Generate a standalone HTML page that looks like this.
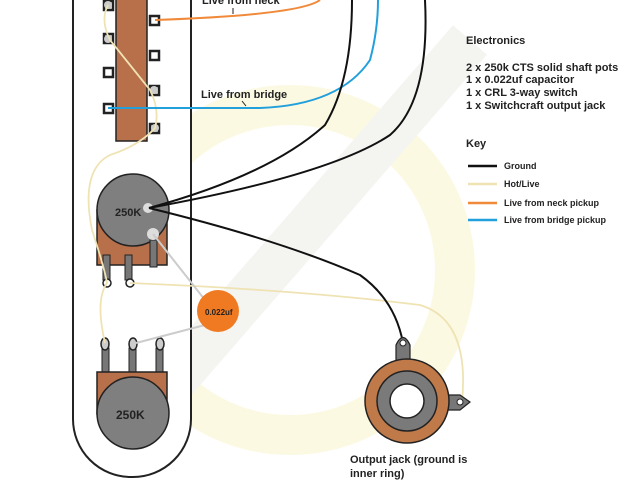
<!DOCTYPE html>
<html><head><style>body{margin:0;background:#fff}svg{display:block}text{font-family:"Liberation Sans",sans-serif;font-weight:bold;fill:#222}</style></head><body>
<svg width="640" height="480" viewBox="0 0 640 480">
<!-- watermark -->
<circle cx="290" cy="270" r="165" fill="none" stroke="#fcf9e2" stroke-width="40"/>
<path d="M140 420 L470 40" stroke="#f4f4f1" stroke-width="45"/>
<!-- plate -->
<rect x="73" y="-60" width="118" height="537" rx="58" fill="#fff" stroke="#222" stroke-width="2"/>
<!-- switch -->
<rect x="116" y="-2" width="31" height="143" fill="#b8704a" stroke="#222" stroke-width="1.5"/>
<g fill="#fff" stroke="#222" stroke-width="2.5">
<rect x="104" y="1" width="9" height="9"/><rect x="104" y="34" width="9" height="9"/><rect x="104" y="68" width="9" height="9"/><rect x="104" y="104" width="9" height="9"/>
<rect x="150" y="16" width="9" height="9"/><rect x="150" y="51" width="9" height="9"/><rect x="150" y="86" width="9" height="9"/><rect x="150" y="124" width="9" height="9"/>
</g>
<g fill="#ccc"><circle cx="108" cy="5" r="4"/><circle cx="108" cy="39" r="4"/><circle cx="154" cy="90" r="4"/><circle cx="155" cy="128" r="4"/></g>
<!-- pot1 -->
<rect x="97" y="210" width="70" height="55" fill="#b8704a" stroke="#222" stroke-width="1.5"/>
<circle cx="133" cy="210" r="36" fill="#7f7f7f" stroke="#222" stroke-width="1.5"/>
<text x="115" y="216" font-size="11">250K</text>
<g fill="#777" stroke="#222" stroke-width="1"><rect x="103" y="255" width="7" height="25"/><rect x="125" y="255" width="7" height="25"/><rect x="150" y="240" width="7" height="27"/></g>
<g fill="#fff" stroke="#222" stroke-width="1.5"><circle cx="107" cy="283" r="4"/><circle cx="130" cy="283" r="4"/></g>
<circle cx="148" cy="208" r="5" fill="#ddd"/><circle cx="153" cy="234" r="6" fill="#ddd"/>
<!-- pot2 -->
<g fill="#777" stroke="#222" stroke-width="1"><rect x="102" y="348" width="7" height="26"/><rect x="129" y="348" width="7" height="26"/><rect x="156" y="348" width="7" height="26"/></g>
<rect x="97" y="372" width="70" height="42" fill="#b8704a" stroke="#222" stroke-width="1.5"/>
<circle cx="133" cy="413" r="36" fill="#7f7f7f" stroke="#222" stroke-width="1.5"/>
<text x="116" y="419" font-size="12">250K</text>
<g fill="#ccc" stroke="#222" stroke-width="1.5"><ellipse cx="105" cy="344" rx="4" ry="6"/><ellipse cx="133" cy="344" rx="4" ry="6"/><ellipse cx="160" cy="344" rx="4" ry="6"/></g>
<!-- wires -->
<g fill="none" stroke="#efe3b4" stroke-width="1.8">
<path d="M108 5 Q100 20 110 40 L150 90 Q160 110 155 128 Q140 145 110 155 Q80 170 92 230 Q105 270 107 283 Q95 300 105 343"/>
<path d="M130 283 Q300 290 420 305 Q470 320 462 402"/>
</g>
<g fill="none" stroke="#ccc" stroke-width="2"><path d="M153 234 L205 300"/><path d="M136 343 L205 325"/></g>
<path d="M155 20 Q300 15 320 0" fill="none" stroke="#f08a3a" stroke-width="2"/>
<path d="M108 108 L260 108 Q340 105 370 60 Q378 30 378 0" fill="none" stroke="#22a0dc" stroke-width="2"/>
<g fill="none" stroke="#111" stroke-width="2">
<path d="M149 208 Q270 175 325 125 Q352 80 352 0"/>
<path d="M149 208 Q330 175 390 135 Q430 100 425 0"/>
<path d="M149 208 Q280 240 360 275 Q395 300 403 343"/>
</g>
<!-- capacitor -->
<circle cx="218" cy="311" r="21" fill="#f07a22"/>
<text x="205" y="315" font-size="8">0.022uf</text>
<!-- jack -->
<path d="M396 360 L396 345 Q403 330 410 345 L410 372 Z" fill="#777" stroke="#222" stroke-width="1.2"/>
<path d="M440 395 L460 395 L470 402 L460 410 L440 410 Z" fill="#777" stroke="#222" stroke-width="1.2"/>
<circle cx="407" cy="401" r="42" fill="#c07a4a" stroke="#222" stroke-width="1.5"/>
<circle cx="407" cy="401" r="30" fill="#7a7a7a" stroke="#222" stroke-width="1.5"/>
<circle cx="407" cy="401" r="17" fill="#fff" stroke="#222" stroke-width="1.5"/>
<circle cx="403" cy="343" r="3" fill="#fff" stroke="#222"/><circle cx="460" cy="402" r="3" fill="#fff" stroke="#222"/>
<!-- labels -->
<text x="202" y="4" font-size="11">Live from neck</text>
<line x1="233" y1="8" x2="233" y2="14" stroke="#222"/>
<text x="201" y="98" font-size="11">Live from bridge</text>
<line x1="242" y1="101" x2="246" y2="106" stroke="#222"/>
<text x="350" y="463" font-size="11">Output jack (ground is</text>
<text x="350" y="477" font-size="11">inner ring)</text>
<g font-size="11"><text x="466" y="44">Electronics</text>
<text x="466" y="71">2 x 250k CTS solid shaft pots</text>
<text x="466" y="83">1 x 0.022uf capacitor</text>
<text x="466" y="96">1 x CRL 3-way switch</text>
<text x="466" y="109">1 x Switchcraft output jack</text>
<text x="466" y="147">Key</text></g>
<g stroke-width="2.5"><line x1="468" y1="166" x2="497" y2="166" stroke="#111"/><line x1="468" y1="184" x2="497" y2="184" stroke="#efe3b4"/><line x1="468" y1="203" x2="497" y2="203" stroke="#f08a3a"/><line x1="468" y1="220" x2="497" y2="220" stroke="#22a0dc"/></g>
<g font-size="9"><text x="504" y="169">Ground</text><text x="504" y="187">Hot/Live</text><text x="504" y="206">Live from neck pickup</text><text x="504" y="223">Live from bridge pickup</text></g>
</svg>
</body></html>
